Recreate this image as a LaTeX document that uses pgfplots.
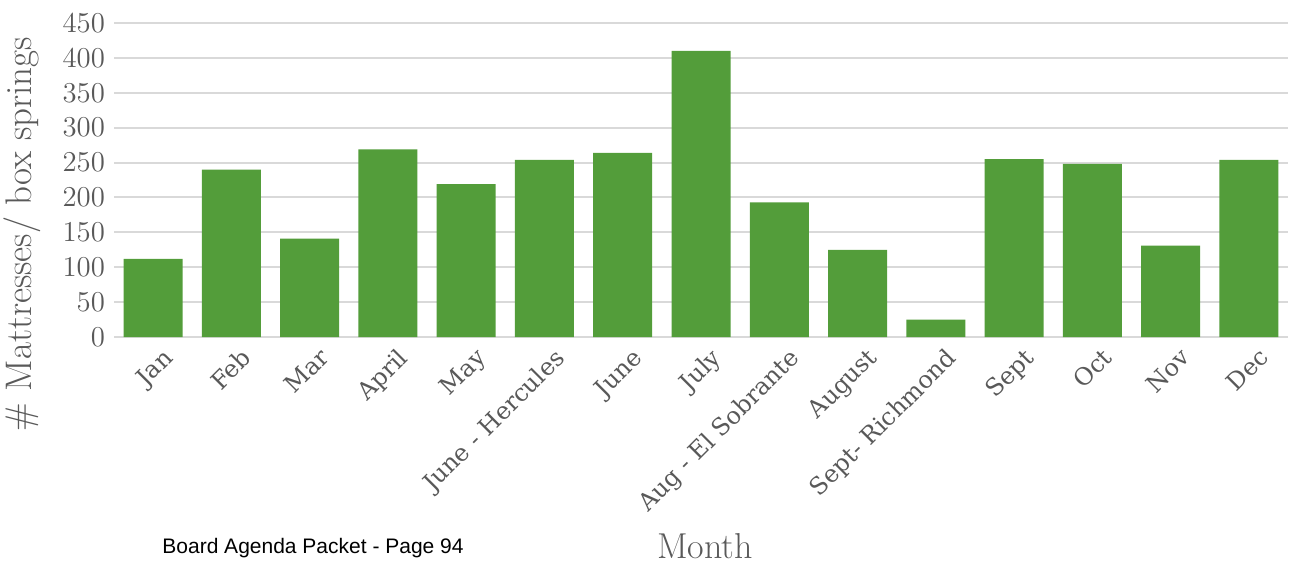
\documentclass[border=0pt]{standalone}
\usepackage{fontspec}
\usepackage{pgfplots}
\pgfplotsset{compat=1.18}
\newfontfamily\slabfont{DejaVu Serif}
\newfontfamily\arialfont{Liberation Sans}
\definecolor{bargreen}{HTML}{539D3A}
\definecolor{txtgray}{HTML}{595959}
\definecolor{gridgray}{HTML}{D9D9D9}

\begin{document}
\begin{tikzpicture}
\path[use as bounding box] (0,0) rectangle (644.5pt,282pt);
\begin{axis}[
  at={(57pt,113.5pt)}, anchor=south west,
  scale only axis, width=587pt, height=157pt,
  ymin=0, ymax=450, xmin=-0.5, xmax=14.5,
  ytick={0,50,...,450},
  xtick={0,...,14},
  xticklabels={Jan,Feb,Mar,April,May,June - Hercules,June,July,Aug - El Sobrante,August,Sept- Richmond,Sept,Oct,Nov,Dec},
  ymajorgrids, grid style={gridgray, line width=1pt},
  separate axis lines,
  y axis line style={draw=none},
  x axis line style={gridgray, line width=1pt},
  axis x line*=bottom,
  major tick length=0pt, tick style={draw=none},
  ticklabel style={text=txtgray},
  yticklabel style={font=\fontsize{15}{15}\selectfont, xshift=-1pt},
  xticklabel style={rotate=45, anchor=north east, font=\slabfont\fontsize{12}{12}\selectfont, yshift=-3pt, xshift=3pt},
  clip=false,
]
\addplot[ybar, bar width=29.5pt, fill=bargreen, draw=none] coordinates {
  (0,112) (1,240) (2,141) (3,269) (4,219) (5,254) (6,264) (7,410)
  (8,193) (9,125) (10,25) (11,255) (12,248) (13,131) (14,254)
};
\end{axis}
\node[rotate=90, text=txtgray, font=\fontsize{18.5}{18.5}\selectfont] at (11pt,165pt) {\# Mattresses/ box springs};
\node[text=txtgray, font=\fontsize{18}{18}\selectfont] at (352.5pt,9pt) {Month};
\node[font=\arialfont\fontsize{10.5}{10.5}\selectfont] at (156.5pt,8pt) {Board Agenda Packet - Page 94};
\end{tikzpicture}
\end{document}
